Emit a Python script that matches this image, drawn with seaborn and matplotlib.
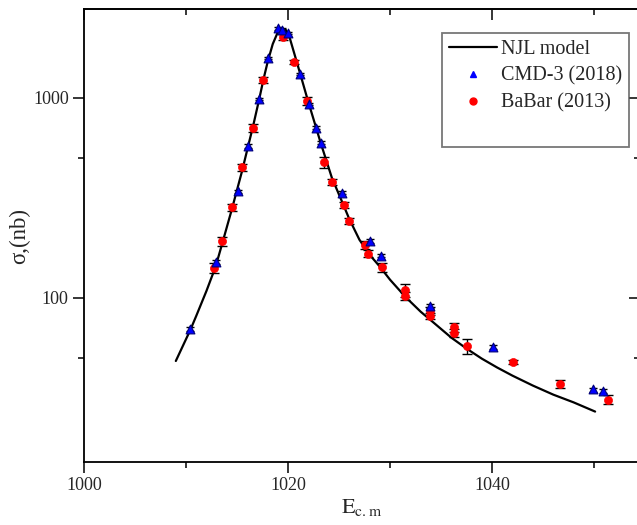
import matplotlib
matplotlib.use("Agg")
import matplotlib.pyplot as plt
from matplotlib.ticker import FixedLocator, NullFormatter, FuncFormatter
from matplotlib.lines import Line2D
import seaborn as sns

# NJL model curve
njl_e = [1009.0, 1010.0, 1010.4, 1011.0, 1012.0, 1012.9, 1013.5, 1014.5, 1015.5,
         1016.0, 1016.6, 1017.2, 1017.6, 1018.0, 1018.5, 1019.0, 1019.4, 1019.8,
         1020.2, 1020.6, 1021.2, 1021.9, 1022.7, 1023.2, 1024.3, 1025.3, 1026.0,
         1027.0, 1028.0, 1029.0, 1030.0, 1031.5, 1033.0, 1034.5, 1036.0, 1037.5,
         1039.0, 1040.5, 1042.0, 1044.0, 1046.0, 1048.0, 1050.1]
njl_sigma = [48.2, 62.0, 68.5, 81.0, 108, 143, 183, 278, 432,
             550, 733, 1000, 1245, 1514, 1862, 2138, 2239, 2188,
             1972, 1679, 1318, 989, 724, 596, 398, 302, 248,
             195, 164, 143, 123, 101, 85.1, 73.3, 63.1, 55.6,
             49.5, 44.7, 40.7, 36.3, 32.7, 29.9, 26.9]

# CMD-3 (2018)
cmd_e = [1010.4, 1012.9, 1015.1, 1016.1, 1017.2, 1018.0, 1019.0, 1019.4, 1020.0,
         1021.2, 1022.1, 1022.7, 1023.2, 1025.3, 1028.0, 1029.1, 1033.9, 1040.1,
         1049.9, 1050.9]
cmd_sigma = [70, 151, 342, 575, 989, 1586, 2230, 2200, 2115,
             1318, 933, 708, 596, 335, 192, 162, 91, 56.6,
             34.7, 34]
cmd_err = [1.5, 3, 6, 10, 15, 25, 35, 35, 35,
           20, 15, 12, 10, 6, 4, 3, 2, 1.2,
           0.8, 0.8]

# BaBar (2013)
bab_e = [1012.7, 1013.5, 1014.5, 1015.5, 1016.6, 1017.5, 1019.5, 1020.6, 1021.9,
         1023.5, 1024.3, 1025.5, 1026.0, 1027.5, 1027.8, 1029.2, 1031.5, 1031.5,
         1033.9, 1033.9, 1036.3, 1036.3, 1037.5, 1042.1, 1046.7, 1051.4]
bab_sigma = [141, 192, 284, 451, 708, 1230, 2020, 1514, 966,
             478, 380, 291, 242, 184, 166, 142, 109, 102,
             86, 81, 71, 66.5, 57, 47.7, 37, 30.9]
bab_err = [8, 10, 12, 18, 33, 40, 60, 40, 40,
           30, 12, 10, 8, 8, 7, 7, 8, 5,
           4, 3, 4, 3, 5, 1, 1.8, 1.5]

sns.set_style("ticks")
plt.rcParams['font.family'] = ['Liberation Serif', 'DejaVu Serif']
plt.rcParams['mathtext.fontset'] = 'stix'

fig = plt.figure(figsize=(6.37, 5.25), dpi=100)
ax = fig.add_axes([84 / 637, 63 / 525, 556 / 637, 453 / 525])

sns.lineplot(x=njl_e, y=njl_sigma, color='black', lw=1.6, ax=ax, zorder=2,
             sort=False, estimator=None)

ax.errorbar(bab_e, bab_sigma, yerr=bab_err, fmt='none', ecolor='black',
            elinewidth=1, capsize=3.5, capthick=1, zorder=3)
ax.errorbar(cmd_e, cmd_sigma, yerr=cmd_err, fmt='none', ecolor='black',
            elinewidth=1, capsize=3, capthick=1, zorder=3)
sns.scatterplot(x=bab_e, y=bab_sigma, marker='o', color='red', edgecolor='red',
                s=34, ax=ax, zorder=4)
sns.scatterplot(x=cmd_e, y=cmd_sigma, marker='^', color='blue', edgecolor='#00007a',
                s=40, linewidth=0.8, ax=ax, zorder=5)

ax.set_yscale('log')
ax.set_xlim(1000, 1054.5)
ax.set_ylim(15.04, 2790)

ax.xaxis.set_major_locator(FixedLocator([1000, 1020, 1040]))
ax.xaxis.set_minor_locator(FixedLocator([1010, 1030, 1050]))
ax.yaxis.set_major_locator(FixedLocator([100, 1000]))
ax.yaxis.set_minor_locator(FixedLocator([50, 500]))
ax.yaxis.set_major_formatter(FuncFormatter(lambda v, p: f"{v:.0f}"))
ax.yaxis.set_minor_formatter(NullFormatter())
ax.tick_params(which='major', direction='out', length=8, width=1.3, labelsize=13, pad=3)
ax.tick_params(which='minor', direction='out', length=4, width=1.3)

for sp in ax.spines.values():
    sp.set_visible(True)
    sp.set_linewidth(1.3)
    sp.set_color('black')

# mirrored axes with inward ticks
secx = ax.secondary_xaxis('top')
secx.xaxis.set_major_locator(FixedLocator([1000, 1020, 1040]))
secx.xaxis.set_minor_locator(FixedLocator([1010, 1030, 1050]))
secx.tick_params(which='major', direction='in', length=8, width=1.3, labeltop=False)
secx.tick_params(which='minor', direction='in', length=4, width=1.3)
secx.spines['top'].set_linewidth(1.3)
secy = ax.secondary_yaxis('right')
secy.yaxis.set_major_locator(FixedLocator([100, 1000]))
secy.yaxis.set_minor_locator(FixedLocator([50, 500]))
secy.tick_params(which='major', direction='in', length=8, width=1.3, labelright=False)
secy.tick_params(which='minor', direction='in', length=4, width=1.3, labelright=False)
secy.yaxis.set_minor_formatter(NullFormatter())

ax.set_xlabel(r'$\mathrm{E}_{\mathrm{c.m}}$', fontsize=16, labelpad=2)
ax.set_ylabel('σ,(nb)', fontsize=16.5, labelpad=2)

handles = [
    Line2D([], [], color='black', lw=1.6),
    Line2D([], [], color='blue', marker='^', ls='none', markersize=5),
    Line2D([], [], color='red', marker='o', ls='none', markersize=5),
    Line2D([], [], color='none', ls='none'),
]
labels = ['NJL model', 'CMD-3 (2018)', 'BaBar (2013)', ' ']
leg = ax.legend(handles, labels, loc='upper right', bbox_to_anchor=(0.980, 0.947),
                borderaxespad=0, fontsize=14.5, frameon=True, fancybox=False,
                handlelength=2.4, handletextpad=0.2, labelspacing=0.39,
                borderpad=0.33)
leg.get_frame().set_edgecolor('#555555')
leg.get_frame().set_linewidth(1.3)

fig.savefig('out.png', dpi=100)
